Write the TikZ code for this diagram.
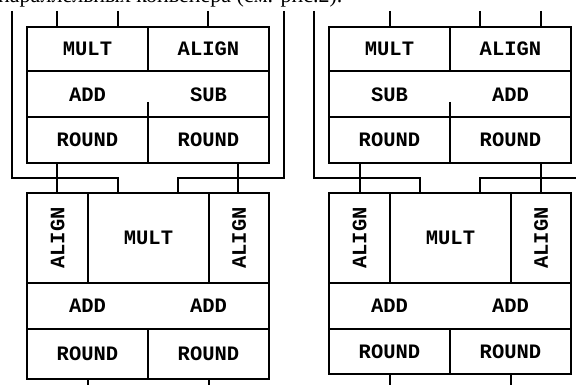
\documentclass[tikz,border=0pt]{standalone}
\usepackage{fontspec}
\setmainfont{Liberation Serif}
\setmonofont{Liberation Mono}
\newcommand\cellat[6]{\node[cell, minimum width={(#4-#2)*1pt}, minimum height={(#5-#3)*1pt}] (#1) at ({(#2+#4)/2},{(#3+#5)/2}) {#6};}
\begin{document}
\begin{tikzpicture}[x=1pt,y=-1pt,
  cell/.style={draw, rectangle, inner sep=0pt, line width=1.2pt, font=\ttfamily\bfseries\fontsize{20.5}{20.5}\selectfont},
  lbl/.style={inner sep=0pt, font=\ttfamily\bfseries\fontsize{20.5}{20.5}\selectfont},
  wire/.style={line width=1.2pt}]
\clip (0,0) rectangle (576,385);
\fill[white] (0,0) rectangle (576,385);
\node[anchor=base west, inner sep=0pt, font=\fontsize{22}{22}\selectfont] (cap) at (-2,3) {параллельных конвейера (см. рис.2).};
% ---------- left panel ----------
\cellat{LM}{27}{27}{148}{71}{MULT}
\cellat{LA}{148}{27}{269}{71}{ALIGN}
\cellat{LAS}{27}{71}{269}{117}{}
\node[lbl] (LADD) at (87.5,95) {ADD};
\node[lbl] (LSUB) at (208.5,95) {SUB};
\cellat{LR1}{27}{117}{148}{163}{ROUND}
\cellat{LR2}{148}{117}{269}{163}{ROUND}
\cellat{LAL}{27}{193}{88}{283}{}
\node[lbl, rotate=90] (LALt) at (LAL.center) {ALIGN};
\cellat{LMU}{88}{193}{209}{283}{MULT}
\cellat{LAR}{209}{193}{269}{283}{}
\node[lbl, rotate=90] (LARt) at (LAR.center) {ALIGN};
\cellat{LAA}{27}{283}{269}{329}{}
\node[lbl] (LADD1) at (87.5,306) {ADD};
\node[lbl] (LADD2) at (208.5,306) {ADD};
\cellat{LR3}{27}{329}{148}{379}{ROUND}
\cellat{LR4}{148}{329}{269}{379}{ROUND}
% left wires
\coordinate (Li1) at (57,11); \coordinate (Li2) at (118,11); \coordinate (Li3) at (208,11);
\coordinate (Lo1) at (12,11); \coordinate (Lj1) at (12,178);
\coordinate (Lo2) at (284,11); \coordinate (Lj2) at (284,178);
\coordinate (Lm1) at (118,193); \coordinate (Lm2) at (178,193);
\coordinate (La1) at (57,193); \coordinate (La2) at (238,193);
\coordinate (Lq1) at (88,385); \coordinate (Lq2) at (209,385);
\coordinate (Lst) at (148,102);
\draw[wire] (Li1) -- (Li1 |- LM.north);
\draw[wire] (Li2) -- (Li2 |- LM.north);
\draw[wire] (Li3) -- (Li3 |- LA.north);
\draw[wire] (Lo1) -- (Lj1) -| (Lm1);
\draw[wire] (Lo2) -- (Lj2) -| (Lm2);
\draw[wire] (LR1.south -| La1) -- (La1);
\draw[wire] (LR2.south -| La2) -- (La2);
\draw[wire] (LR3.south -| Lq1) -- (Lq1);
\draw[wire] (LR4.south -| Lq2) -- (Lq2);
\draw[wire] (Lst) -- (Lst |- LR1.north);
% ---------- right panel ----------
\cellat{RM}{329}{27}{450}{71}{MULT}
\cellat{RA}{450}{27}{571}{71}{ALIGN}
\cellat{RAS}{329}{71}{571}{117}{}
\node[lbl] (RSUB) at (389.5,95) {SUB};
\node[lbl] (RADD) at (510.5,95) {ADD};
\cellat{RR1}{329}{117}{450}{163}{ROUND}
\cellat{RR2}{450}{117}{571}{163}{ROUND}
\cellat{RAL}{329}{193}{390}{283}{}
\node[lbl, rotate=90] (RALt) at (RAL.center) {ALIGN};
\cellat{RMU}{390}{193}{511}{283}{MULT}
\cellat{RAR}{511}{193}{571}{283}{}
\node[lbl, rotate=90] (RARt) at (RAR.center) {ALIGN};
\cellat{RAA}{329}{283}{571}{329}{}
\node[lbl] (RADD1) at (389.5,306) {ADD};
\node[lbl] (RADD2) at (510.5,306) {ADD};
\cellat{RR3}{329}{329}{450}{374}{ROUND}
\cellat{RR4}{450}{329}{571}{374}{ROUND}
% right wires
\coordinate (Ri1) at (390,11); \coordinate (Ri2) at (480,11); \coordinate (Ri3) at (541,11);
\coordinate (Ro1) at (314,11); \coordinate (Rj1) at (314,178);
\coordinate (Ro2) at (586,11); \coordinate (Rj2) at (586,178);
\coordinate (Rm1) at (420,193); \coordinate (Rm2) at (480,193);
\coordinate (Ra1) at (360,193); \coordinate (Ra2) at (541,193);
\coordinate (Rq1) at (390,385); \coordinate (Rq2) at (511,385);
\coordinate (Rst) at (450,102);
\draw[wire] (Ri1) -- (Ri1 |- RM.north);
\draw[wire] (Ri2) -- (Ri2 |- RA.north);
\draw[wire] (Ri3) -- (Ri3 |- RA.north);
\draw[wire] (Ro1) -- (Rj1) -| (Rm1);
\draw[wire] (Ro2) -- (Rj2) -| (Rm2);
\draw[wire] (RR1.south -| Ra1) -- (Ra1);
\draw[wire] (RR2.south -| Ra2) -- (Ra2);
\draw[wire] (RR3.south -| Rq1) -- (Rq1);
\draw[wire] (RR4.south -| Rq2) -- (Rq2);
\draw[wire] (Rst) -- (Rst |- RR1.north);
\end{tikzpicture}
\end{document}
